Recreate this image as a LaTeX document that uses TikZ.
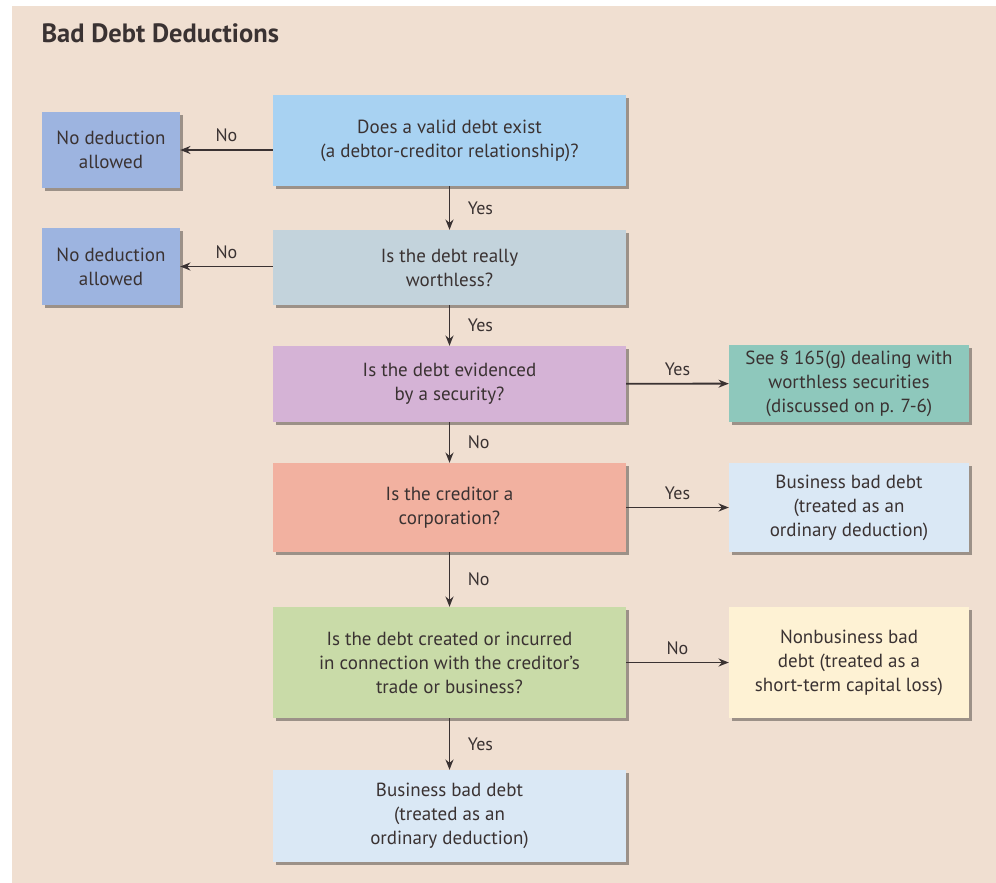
\documentclass[tikz,border=0pt]{standalone}
\usepackage{fontspec}
\setmainfont{PT Sans}
\usepackage{tikz}
\usetikzlibrary{arrows.meta,positioning,calc,shadows}
\definecolor{panelbg}{HTML}{F0DFD1}
\definecolor{inkcolor}{HTML}{3A3232}
\definecolor{skyq}{HTML}{A8D2F2}
\definecolor{nodedcol}{HTML}{9DB4E0}
\definecolor{grayq}{HTML}{C3D3DC}
\definecolor{lilacq}{HTML}{D5B3D6}
\definecolor{tealr}{HTML}{8EC8BC}
\definecolor{salmonq}{HTML}{F2B1A0}
\definecolor{paleblue}{HTML}{DAE8F5}
\definecolor{greenq}{HTML}{C9DBA8}
\definecolor{creamr}{HTML}{FEF2D4}

\tikzset{
  box/.style={align=center, inner sep=4pt, text=inkcolor,
              font=\fontsize{19}{24}\selectfont,
              drop shadow={shadow xshift=2.5pt, shadow yshift=-2.5pt,
                           fill=black, opacity=0.35}},
  arr/.style={-{Stealth[length=3.6mm,width=2.8mm]}, line width=1.9pt, inkcolor},
  lbl/.style={text=inkcolor, font=\fontsize{18}{20}\selectfont}
}

\begin{document}
\begin{tikzpicture}[x=1pt,y=-1pt]
    \useasboundingbox (0,0) rectangle (996,883);
    \fill[panelbg] (12,6) rectangle (996,883);
    \node[anchor=west, text=inkcolor, font=\fontsize{26.5}{30}\selectfont\bfseries]
         (title) at (38,33) {Bad Debt Deductions};

    % main column of questions
    \node[box, fill=skyq, minimum width=353pt, minimum height=91pt]
         (valid) at (449.5,140.5) {Does a valid debt exist\\(a debtor-creditor relationship)?};
    \node[box, fill=grayq, minimum width=353pt, minimum height=75pt]
         (worth) at (449.5,267.5) {Is the debt really\\worthless?};
    \node[box, fill=lilacq, minimum width=353pt, minimum height=76pt]
         (secur) at (449.5,384) {Is the debt evidenced\\by a security?};
    \node[box, fill=salmonq, minimum width=353pt, minimum height=89pt]
         (corp) at (449.5,507.5) {Is the creditor a\\corporation?};
    \node[box, fill=greenq, minimum width=353pt, minimum height=111pt]
         (trade) at (449.5,662.5) {Is the debt created or incurred\\in connection with the creditor's\\trade or business?};
    \node[box, fill=paleblue, minimum width=353pt, minimum height=92pt]
         (busbot) at (449.5,816) {Business bad debt\\(treated as an\\ordinary deduction)};

    % outcomes at the sides
    \node[box, fill=nodedcol, minimum width=138pt, minimum height=76pt]
         (nod1) at (111,150) {No deduction\\allowed};
    \node[box, fill=nodedcol, minimum width=138pt, minimum height=77pt]
         (nod2) at (111,266.5) {No deduction\\allowed};
    \node[box, fill=tealr, minimum width=240pt, minimum height=77pt]
         (sec165) at (849,383.5) {See \S\ 165(g) dealing with\\worthless securities\\(discussed on p. 7-6)};
    \node[box, fill=paleblue, minimum width=240pt, minimum height=89pt]
         (busright) at (849,507.5) {Business bad debt\\(treated as an\\ordinary deduction)};
    \node[box, fill=creamr, minimum width=240pt, minimum height=111pt]
         (nonbus) at (849,662.5) {Nonbusiness bad\\debt (treated as a\\short-term capital loss)};

    % connectors
    \draw[arr] (valid.west |- nod1.east) -- (nod1.east) node[lbl, midway, above=4pt] {No};
    \draw[arr] (worth.west |- nod2.east) -- (nod2.east) node[lbl, midway, above=4pt] {No};
    \draw[arr] (valid) -- (worth) node[lbl, midway, right=14pt] {Yes};
    \draw[arr] (worth) -- (secur) node[lbl, midway, right=14pt] {Yes};
    \draw[arr] (secur) -- (corp) node[lbl, midway, right=14pt] {No};
    \draw[arr] (corp) -- (trade) node[lbl, midway, right=14pt] {No};
    \draw[arr] (trade) -- (busbot) node[lbl, midway, right=14pt] {Yes};
    \draw[arr] (secur) -- (sec165) node[lbl, midway, above=4pt] {Yes};
    \draw[arr] (corp) -- (busright) node[lbl, midway, above=4pt] {Yes};
    \draw[arr] (trade) -- (nonbus) node[lbl, midway, above=4pt] {No};
  \end{tikzpicture}
\end{document}
